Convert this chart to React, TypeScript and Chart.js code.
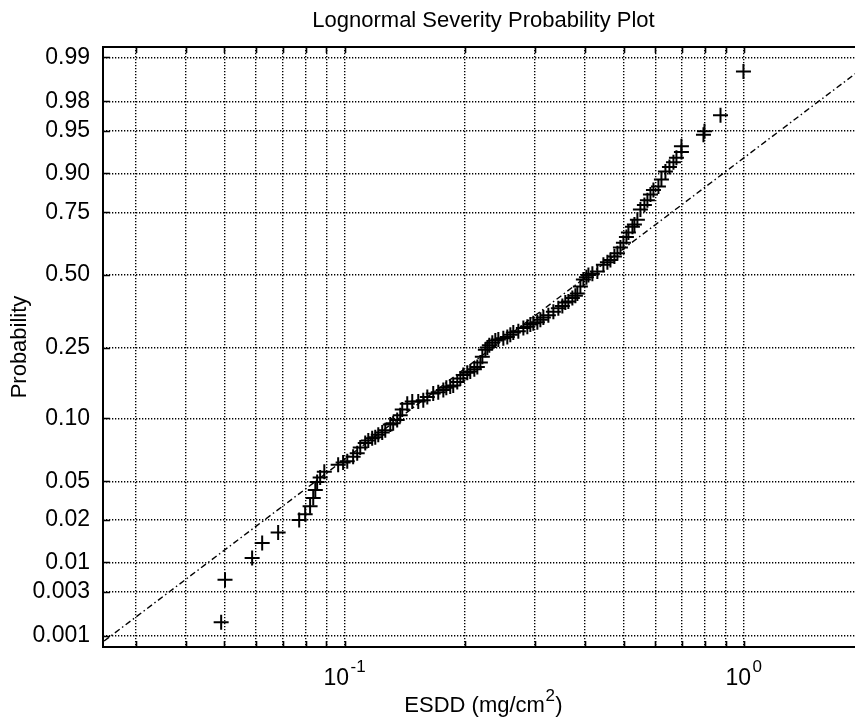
import React, { useEffect, useRef } from 'react';
import { Chart, registerables } from 'chart.js';

Chart.register(...registerables);

// ESDD samples (mg/cm²), sorted ascending
const esdd = [
  0.0491, 0.0502, 0.0587, 0.0622, 0.0682, 0.077, 0.0797, 0.082, 0.0835, 0.0845,
  0.0854, 0.0869, 0.089, 0.0964, 0.0992, 0.1016, 0.1051, 0.1076, 0.1095, 0.1127,
  0.1147, 0.1173, 0.1194, 0.1215, 0.1243, 0.1265, 0.1302, 0.1324, 0.1355, 0.1379,
  0.1395, 0.1436, 0.1478, 0.153, 0.1575, 0.1612, 0.1668, 0.1717, 0.1768, 0.1799,
  0.184, 0.1872, 0.1916, 0.195, 0.1984, 0.203, 0.2065, 0.2114, 0.2151, 0.2189,
  0.2214, 0.2253, 0.2279, 0.2305, 0.2345, 0.2386, 0.2428, 0.2499, 0.2557, 0.2602,
  0.2647, 0.2725, 0.2805, 0.287, 0.292, 0.2971, 0.3041, 0.3094, 0.3148, 0.324,
  0.3335, 0.3432, 0.3512, 0.3573, 0.3636, 0.3721, 0.3786, 0.383, 0.3897, 0.3965,
  0.4035, 0.4082, 0.4176, 0.4298, 0.445, 0.4554, 0.4634, 0.4742, 0.4825, 0.4909,
  0.4995, 0.5082, 0.5141, 0.5261, 0.5322, 0.5414, 0.5509, 0.5637, 0.5736, 0.5837,
  0.5939, 0.6112, 0.6219, 0.6364, 0.6513, 0.6665, 0.6781, 0.6979, 0.6979, 0.7925,
  0.7971, 0.8743, 0.998,
];

// plotting position of each sample on the probability axis
const plotPosition = [
  -3.02, -2.65, -2.46, -2.33, -2.24, -2.13, -2.08, -2.01, -1.94, -1.87,
  -1.8, -1.76, -1.71, -1.65, -1.63, -1.62, -1.58, -1.55, -1.5, -1.46,
  -1.44, -1.42, -1.41, -1.39, -1.37, -1.35, -1.3, -1.29, -1.26, -1.22,
  -1.17, -1.12, -1.1, -1.1, -1.09, -1.06, -1.03, -1.02, -1.0, -0.98,
  -0.97, -0.96, -0.93, -0.9, -0.87, -0.85, -0.84, -0.82, -0.8, -0.76,
  -0.71, -0.65, -0.63, -0.61, -0.59, -0.57, -0.56, -0.55, -0.54, -0.52,
  -0.5, -0.49, -0.46, -0.45, -0.43, -0.42, -0.41, -0.39, -0.37, -0.35,
  -0.32, -0.29, -0.27, -0.24, -0.23, -0.2, -0.18, -0.16, -0.1, -0.04,
  -0.02, 0.0, 0.01, 0.03, 0.09, 0.11, 0.13, 0.16, 0.19, 0.24,
  0.28, 0.33, 0.37, 0.42, 0.44, 0.48, 0.57, 0.61, 0.65, 0.7,
  0.74, 0.77, 0.83, 0.9, 0.94, 0.98, 1.02, 1.07, 1.12, 1.22,
  1.25, 1.39, 1.77,
];

// probability tick labels and where they sit on the axis
const probLabels = ['0.001', '0.003', '0.01', '0.02', '0.05', '0.10', '0.25', '0.50', '0.75', '0.90', '0.95', '0.98', '0.99'];
const probPositions = [-3.139, -2.754, -2.498, -2.13, -1.794, -1.246, -0.632, 0, 0.545, 0.884, 1.255, 1.51, 1.893];
const yRange = [-3.235, 1.983];

// log-axis grid values and labelled decades
const xGridValues = [0.03, 0.04, 0.05, 0.06, 0.07, 0.08, 0.09, 0.1, 0.2, 0.3, 0.4, 0.5, 0.6, 0.7, 0.8, 0.9, 1, 2];
const xDecades = [0.1, 1];
const xDecadeExponents = ['-1', '0'];
const xRange = [0.02484, 2.0];

// fitted lognormal reference line (end points)
const fitX = [0.025, 2.0];
const fitY = [-3.183, 1.808];

const FONT = '"Liberation Sans", Arial, Helvetica, sans-serif';

const decorations = {
  id: 'decorations',
  afterDraw(chart: any) {
    const { ctx, chartArea: a, scales } = chart;
    const xs = scales.x;
    const ys = scales.y;
    ctx.save();
    ctx.strokeStyle = '#000';
    ctx.fillStyle = '#000';

    // inward tick marks
    ctx.lineWidth = 1.6;
    ctx.beginPath();
    for (const v of xGridValues) {
      const px = Math.round(xs.getPixelForValue(v)) + 0.5;
      ctx.moveTo(px, a.bottom);
      ctx.lineTo(px, a.bottom - 6);
      ctx.moveTo(px, a.top);
      ctx.lineTo(px, a.top + 6);
    }
    for (const v of probPositions) {
      const py = Math.round(ys.getPixelForValue(v)) + 0.5;
      ctx.moveTo(a.left, py);
      ctx.lineTo(a.left + 7, py);
      ctx.moveTo(a.right, py);
      ctx.lineTo(a.right - 7, py);
    }
    ctx.stroke();

    // axes box
    ctx.lineWidth = 2;
    ctx.strokeRect(a.left, a.top, a.right - a.left, a.bottom - a.top);

    const cx = (a.left + a.right) / 2;
    ctx.textBaseline = 'alphabetic';

    // title
    ctx.font = `22px ${FONT}`;
    ctx.textAlign = 'center';
    ctx.fillText('Lognormal Severity Probability Plot', cx, a.top - 20);

    // decade labels 10^n
    xDecades.forEach((v, i) => {
      const px = xs.getPixelForValue(v);
      ctx.font = `23px ${FONT}`;
      const wb = ctx.measureText('10').width;
      ctx.font = `17px ${FONT}`;
      const ws = ctx.measureText(xDecadeExponents[i]).width;
      const gap = 1.5;
      const left = px - (wb + gap + ws) / 2;
      ctx.textAlign = 'left';
      ctx.font = `23px ${FONT}`;
      ctx.fillText('10', left, a.bottom + 38);
      ctx.font = `17px ${FONT}`;
      ctx.fillText(xDecadeExponents[i], left + wb + gap, a.bottom + 25);
    });

    // x-axis title with superscript
    const main = 'ESDD (mg/cm';
    ctx.font = `22px ${FONT}`;
    const w1 = ctx.measureText(main).width;
    const w3 = ctx.measureText(')').width;
    ctx.font = `17px ${FONT}`;
    const w2 = ctx.measureText('2').width;
    const x0 = cx - (w1 + w2 + w3 + 1) / 2;
    const base = a.bottom + 65;
    ctx.textAlign = 'left';
    ctx.font = `22px ${FONT}`;
    ctx.fillText(main, x0, base);
    ctx.font = `17px ${FONT}`;
    ctx.fillText('2', x0 + w1 + 0.5, base - 11);
    ctx.font = `22px ${FONT}`;
    ctx.fillText(')', x0 + w1 + w2 + 1, base);

    // y-axis title
    ctx.translate(26, (a.top + a.bottom) / 2);
    ctx.rotate(-Math.PI / 2);
    ctx.textAlign = 'center';
    ctx.font = `22px ${FONT}`;
    ctx.fillText('Probability', 0, 0);
    ctx.restore();
  },
};

export default function App() {
  const ref = useRef<HTMLCanvasElement | null>(null);

  useEffect(() => {
    if (!ref.current) return;
    const chart = new Chart(ref.current, {
      type: 'scatter',
      data: {
        datasets: [
          {
            label: 'ESDD',
            data: esdd.map((x, i) => ({ x, y: plotPosition[i] })),
            pointStyle: 'cross',
            pointRadius: 7.5,
            pointBorderWidth: 2,
            borderColor: '#000',
            backgroundColor: '#000',
            showLine: false,
          },
          {
            label: 'Fit',
            data: fitX.map((x, i) => ({ x, y: fitY[i] })),
            showLine: true,
            borderColor: '#000',
            borderWidth: 1.4,
            borderDash: [6, 3, 1.5, 3],
            pointRadius: 0,
            fill: false,
          },
        ],
      },
      options: {
        responsive: false,
        animation: false,
        devicePixelRatio: 1,
        events: [],
        layout: { padding: { top: 47, right: 16, left: 0, bottom: 0 } },
        plugins: {
          legend: { display: false },
          tooltip: { enabled: false },
          title: { display: false },
        },
        scales: {
          x: {
            type: 'logarithmic',
            min: xRange[0],
            max: xRange[1],
            afterBuildTicks: (s: any) => {
              s.ticks = xGridValues.map((value) => ({ value }));
            },
            afterFit: (s: any) => {
              s.height = 75;
            },
            ticks: { display: false, autoSkip: false },
            grid: { color: '#000', lineWidth: 1.4, drawTicks: false },
            border: { display: false, dash: [1.3, 1.7] },
          },
          y: {
            type: 'linear',
            min: yRange[0],
            max: yRange[1],
            afterBuildTicks: (s: any) => {
              s.ticks = probPositions.map((value) => ({ value }));
            },
            afterFit: (s: any) => {
              s.width = 103;
            },
            ticks: {
              autoSkip: false,
              color: '#000',
              padding: 13,
              font: { family: FONT, size: 23 },
              callback: (_v: any, i: number) => probLabels[i],
            },
            grid: { color: '#000', lineWidth: 1.4, drawTicks: false },
            border: { display: false, dash: [1.3, 1.7] },
          },
        },
      },
      plugins: [decorations],
    });
    return () => chart.destroy();
  }, []);

  return (
    <div
      style={{
        position: 'fixed',
        left: 0,
        top: 0,
        width: 855,
        height: 722,
        overflow: 'hidden',
        background: '#fff',
      }}
    >
      <canvas ref={ref} width={880} height={722} style={{ display: 'block', width: 880, height: 722 }} />
    </div>
  );
}
